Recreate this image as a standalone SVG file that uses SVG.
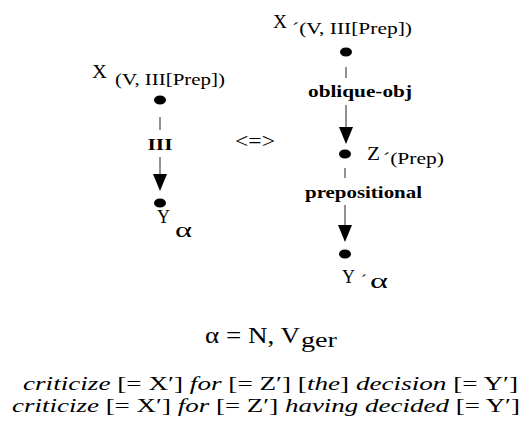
<svg xmlns="http://www.w3.org/2000/svg" width="525" height="424" viewBox="0 0 525 424">
<defs>
<style>
text{font-family:"Liberation Serif","Times New Roman",serif;fill:#000}
.main{font-size:19px}
.sub{font-size:17px}
.alpha{font-size:22px}
.lbl{font-size:17.5px;font-weight:bold}
.eq{font-size:24px}
.bot{font-size:19.5px}
.it{font-style:italic}
.dot{fill:#000}
.edge{stroke:#222;stroke-width:1;fill:none}
.arrow{marker-end:url(#ah)}
</style>
<marker id="ah" markerUnits="userSpaceOnUse" markerWidth="18" markerHeight="16" viewBox="0 -8 18 16" refX="0" refY="0" orient="auto">
<path d="M0,-7 L17,0 L0,7 Z" fill="#000"/>
</marker>
</defs>
<rect width="525" height="424" fill="#fff"/>
<g id="connectors">
<line class="edge" x1="160" y1="117" x2="160" y2="130"/>
<line class="edge arrow" x1="160" y1="157" x2="160" y2="174"/>
<line class="edge" x1="346" y1="67" x2="346" y2="78"/>
<line class="edge arrow" x1="346" y1="105" x2="346" y2="127"/>
<line class="edge" x1="345" y1="168" x2="345" y2="178"/>
<line class="edge arrow" x1="345" y1="205" x2="345" y2="225"/>
<text class="lbl" x="160" y="150" text-anchor="middle" textLength="25" lengthAdjust="spacingAndGlyphs">III</text>
<text class="lbl" x="308" y="97" textLength="104" lengthAdjust="spacingAndGlyphs">oblique-obj</text>
<text class="lbl" x="305" y="198" textLength="117" lengthAdjust="spacingAndGlyphs">prepositional</text>
</g>
<g id="nodeX">
<ellipse class="dot" cx="160" cy="100" rx="6" ry="4.5"/>
<text class="main" x="92" y="78" textLength="15" lengthAdjust="spacingAndGlyphs">X</text>
<text class="sub" x="115" y="85" textLength="110" lengthAdjust="spacingAndGlyphs">(V, III[Prep])</text>
</g>
<g id="nodeY">
<ellipse class="dot" cx="160" cy="203" rx="6" ry="4.5"/>
<text class="main" x="157" y="223" textLength="13" lengthAdjust="spacingAndGlyphs">Y</text>
<text class="alpha" x="175" y="237" textLength="17" lengthAdjust="spacingAndGlyphs">α</text>
</g>
<g id="equiv">
<text x="235" y="148" style="font-size:20px" textLength="40" lengthAdjust="spacingAndGlyphs">&lt;=&gt;</text>
</g>
<g id="nodeXp">
<ellipse class="dot" cx="346" cy="52" rx="6" ry="4.5"/>
<text class="main" x="273" y="28" textLength="14" lengthAdjust="spacingAndGlyphs">X</text>
<text class="sub" x="292" y="34" textLength="120" lengthAdjust="spacingAndGlyphs">´(V, III[Prep])</text>
</g>
<g id="nodeZp">
<ellipse class="dot" cx="345" cy="154" rx="6" ry="4.5"/>
<text class="main" x="367" y="160" textLength="13" lengthAdjust="spacingAndGlyphs">Z</text>
<text class="sub" x="383" y="164" textLength="61" lengthAdjust="spacingAndGlyphs">´(Prep)</text>
</g>
<g id="nodeYp">
<ellipse class="dot" cx="345" cy="254" rx="6" ry="4.5"/>
<text class="main" x="342" y="283" textLength="13" lengthAdjust="spacingAndGlyphs">Y</text>
<text class="sub" x="361" y="286">´</text>
<text class="alpha" x="370" y="288" textLength="18" lengthAdjust="spacingAndGlyphs">α</text>
</g>
<g id="legend">
<text class="eq" x="205" y="343" textLength="95" lengthAdjust="spacingAndGlyphs">α = N, V</text>
<text x="301" y="347" style="font-size:20px" textLength="36" lengthAdjust="spacingAndGlyphs">ger</text>
<text class="bot" x="23" y="390" textLength="495" lengthAdjust="spacingAndGlyphs"><tspan class="it">criticize</tspan> [= X′] <tspan class="it">for</tspan> [= Z′] [<tspan class="it">the</tspan>] <tspan class="it">decision</tspan> [= Y′]</text>
<text class="bot" x="12" y="412" textLength="508" lengthAdjust="spacingAndGlyphs"><tspan class="it">criticize</tspan> [= X′] <tspan class="it">for</tspan> [= Z′] <tspan class="it">having decided</tspan> [= Y′]</text>
</g>
</svg>
